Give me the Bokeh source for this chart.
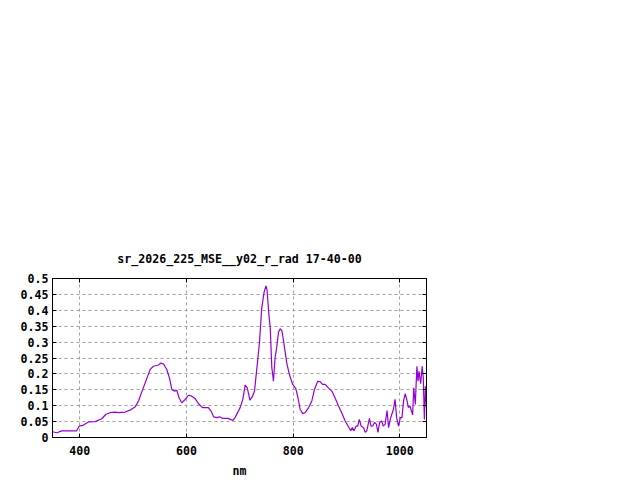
from bokeh.plotting import figure
from bokeh.models import Range1d, FixedTicker, LinearAxis, Title, CustomLabelingPolicy
from bokeh.embed import file_html
from bokeh.resources import INLINE

# ---- data ----
wavelength_nm = [
    348.75, 357, 366, 394, 399, 407, 416, 429, 441, 449, 457, 466, 472, 485, 494,
    504, 510, 519, 526, 532, 538, 547.5, 552, 557, 563, 568, 572.5, 577, 582, 586,
    591, 596, 604, 610, 616, 622.5, 630, 641, 646, 651, 657, 662, 668, 677.5, 687,
    691, 700.6, 705.6, 710, 714, 719, 724, 727.5, 732, 737, 741, 745.6, 749, 751,
    754, 757, 760, 762, 763, 766, 769, 772.5, 775.6, 779, 783, 788, 793, 799, 805,
    809, 813, 818, 822.5, 829, 835, 840, 846, 851, 855, 860, 866, 872.5, 879, 885,
    891, 897.5, 904, 908, 911, 914, 918, 921, 924, 927.5, 932, 935, 938, 943, 946,
    949, 952.5, 956, 959, 962, 966, 969, 972.5, 976, 979, 982, 985, 988, 991, 994,
    997.5, 1001, 1004, 1007, 1010, 1013, 1016, 1019, 1024, 1026, 1029, 1032, 1034,
    1036, 1039, 1042, 1044, 1046, 1048, 1050,
]
radiance = [
    0.018, 0.015, 0.021, 0.021, 0.036, 0.039, 0.049, 0.050, 0.059, 0.073, 0.078,
    0.080, 0.078, 0.080, 0.086, 0.097, 0.115, 0.156, 0.1875, 0.214, 0.224, 0.228,
    0.234, 0.231, 0.214, 0.1875, 0.151, 0.146, 0.148, 0.125, 0.109, 0.117, 0.133,
    0.130, 0.123, 0.106, 0.094, 0.094, 0.083, 0.065, 0.0625, 0.065, 0.060, 0.060,
    0.054, 0.0625, 0.094, 0.120, 0.165, 0.156, 0.117, 0.130, 0.146, 0.219, 0.302,
    0.406, 0.458, 0.477, 0.464, 0.396, 0.344, 0.219, 0.193, 0.177, 0.250, 0.281,
    0.331, 0.342, 0.335, 0.292, 0.234, 0.198, 0.167, 0.154, 0.125, 0.089, 0.075,
    0.078, 0.094, 0.115, 0.151, 0.177, 0.175, 0.167, 0.167, 0.156, 0.146, 0.123,
    0.099, 0.078, 0.052, 0.033, 0.021, 0.031, 0.021, 0.036, 0.036, 0.057, 0.036,
    0.031, 0.016, 0.021, 0.060, 0.036, 0.036, 0.047, 0.042, 0.016, 0.047, 0.052,
    0.036, 0.042, 0.085, 0.031, 0.057, 0.073, 0.089, 0.120, 0.0625, 0.036, 0.0625,
    0.0625, 0.115, 0.1375, 0.120, 0.094, 0.099, 0.071, 0.156, 0.104, 0.224, 0.177,
    0.208, 0.169, 0.224, 0.1875, 0.057, 0.161, 0.094,
]
x_ticks = [400, 600, 800, 1000]
y_ticks = [0, 0.05, 0.1, 0.15, 0.2, 0.25, 0.3, 0.35, 0.4, 0.45, 0.5]
y_tick_labels = ["0", "0.05", "0.1", "0.15", "0.2", "0.25", "0.3", "0.35", "0.4", "0.45", "0.5"]
title_text = "sr_2026_225_MSE__y02_r_rad 17-40-00"
x_label = "nm"

FONT = "DejaVu Sans Mono"
FSIZE = "11.6px"
GRID = "#a0a0a0"

p = figure(width=630, height=480, output_backend="svg", toolbar_location=None,
           x_range=Range1d(wavelength_nm[0], wavelength_nm[-1]),
           y_range=Range1d(y_ticks[0], y_ticks[-1]),
           min_border_left=52, min_border_right=204, min_border_top=278,
           min_border_bottom=42, x_axis_label=x_label)
p.title = Title(text=title_text, align="center", text_font=FONT,
                text_font_size=FSIZE, text_font_style="bold", text_color="black",
                standoff=4)

p.background_fill_color = "white"
p.border_fill_color = "white"
p.outline_line_color = "black"
p.outline_line_width = 1

p.line(wavelength_nm, radiance, line_color="#9400d3", line_width=1.2)

for ax in p.xaxis:
    ax.ticker = FixedTicker(ticks=x_ticks)
for ax in p.yaxis:
    ax.ticker = FixedTicker(ticks=y_ticks)
    ax.major_label_overrides = {t: l for t, l in zip(y_ticks, y_tick_labels)}

for ax in list(p.xaxis) + list(p.yaxis):
    ax.axis_line_color = "black"
    ax.major_tick_in = 4
    ax.major_tick_out = 0
    ax.minor_tick_in = 0
    ax.minor_tick_out = 0
    ax.major_tick_line_color = "black"
    ax.major_label_text_font = FONT
    ax.major_label_text_font_size = FSIZE
    ax.major_label_text_font_style = "bold"
    ax.major_label_text_color = "black"
    ax.axis_label_text_font = FONT
    ax.axis_label_text_font_size = FSIZE
    ax.axis_label_text_font_style = "bold"
    ax.axis_label_text_color = "black"

p.xaxis.major_label_standoff = 8
p.xaxis.axis_label_standoff = 6
p.yaxis.major_label_standoff = 4

# mirrored ticks on top and right (no labels)
top = LinearAxis(ticker=FixedTicker(ticks=x_ticks), major_tick_in=4, major_tick_out=0,
                 minor_tick_in=0, minor_tick_out=0,
                 major_label_policy=CustomLabelingPolicy(code="return new Set()"),
                 major_label_standoff=0, axis_line_color="black")
right = LinearAxis(ticker=FixedTicker(ticks=y_ticks), major_tick_in=4, major_tick_out=0,
                   minor_tick_in=0, minor_tick_out=0,
                   major_label_policy=CustomLabelingPolicy(code="return new Set()"),
                   major_label_standoff=0, axis_line_color="black")
p.add_layout(top, "above")
p.add_layout(right, "right")

p.xgrid.ticker = FixedTicker(ticks=x_ticks)
p.ygrid.ticker = FixedTicker(ticks=y_ticks)
for g in (p.xgrid, p.ygrid):
    g.grid_line_color = GRID
    g.grid_line_dash = "3 3"
    g.grid_line_width = 1

open("out.html", "w").write(file_html(p, INLINE))
